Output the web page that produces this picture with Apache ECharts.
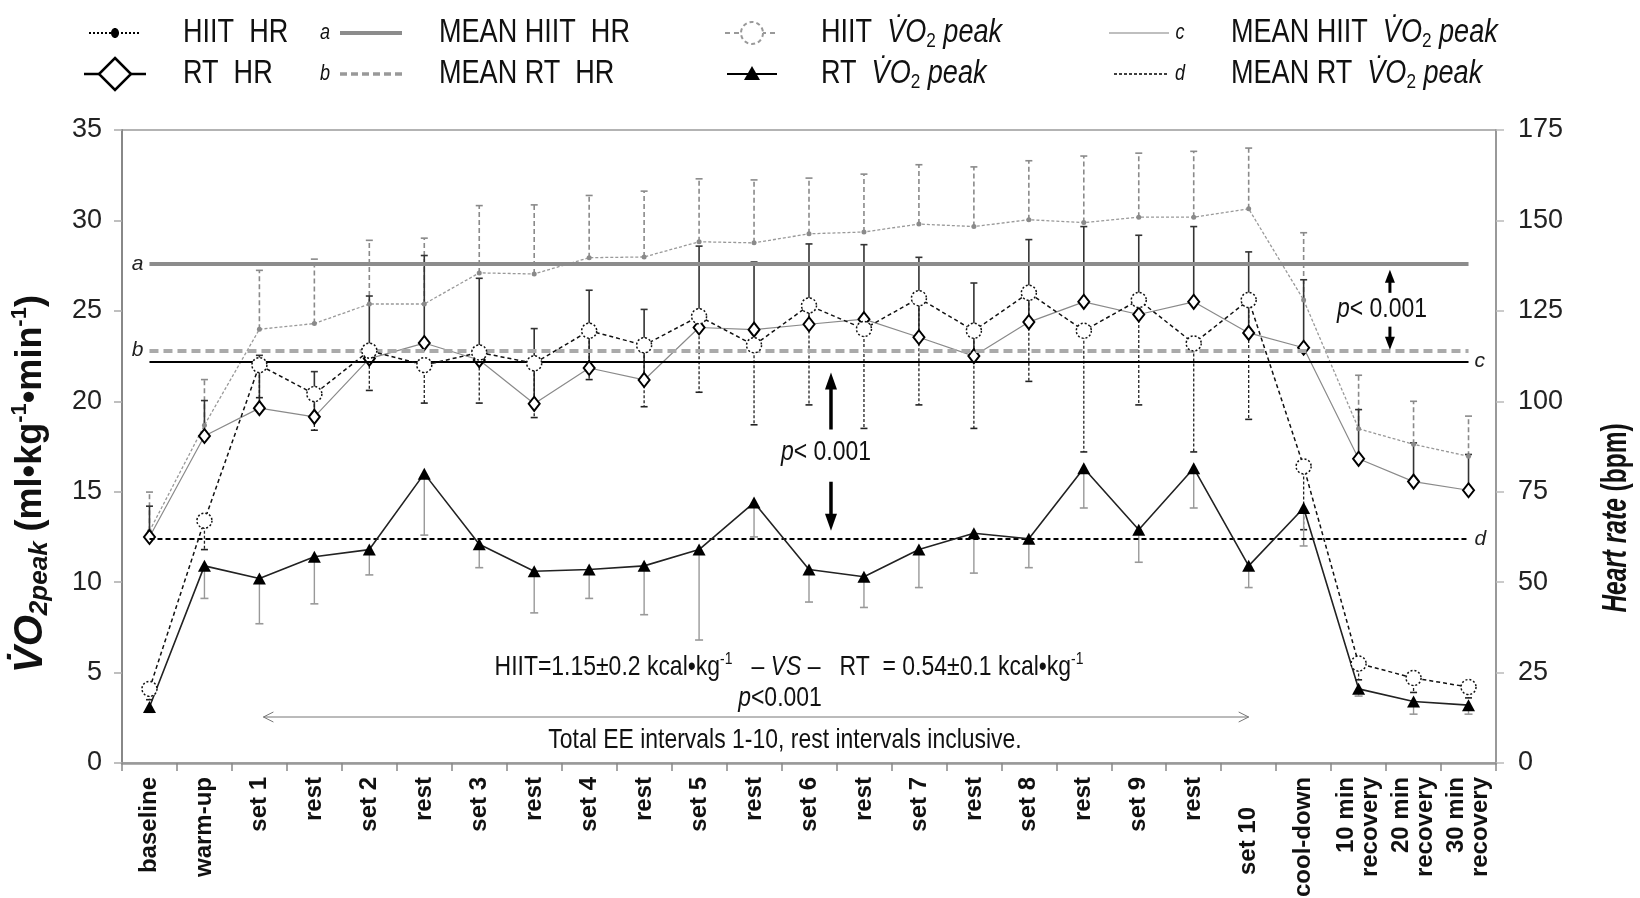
<!DOCTYPE html>
<html><head><meta charset="utf-8">
<script src="https://cdn.jsdelivr.net/npm/echarts@6/dist/echarts.min.js"></script>
<style>html,body{margin:0;padding:0;background:#fff}#c{width:1640px;height:898px}</style>
</head><body><div id="c"></div><script>
// ---------------- data ----------------
const categories = ['baseline','warm-up','set 1','rest','set 2','rest','set 3','rest','set 4','rest','set 5','rest','set 6','rest','set 7','rest','set 8','rest','set 9','rest','set 10','cool-down','10 min\nrecovery','20 min\nrecovery','30 min\nrecovery'];
// Heart rate (bpm), right axis
const hiitHR   = [64.1, 93.4, 119.9, 121.5, 126.9, 126.9, 135.5, 135.2, 139.7, 139.9, 144.1, 143.8, 146.3, 146.8, 149.0, 148.3, 150.2, 149.4, 150.9, 150.9, 153.2, 128.0, 92.4, 88.1, 84.8];
const hiitHRsd = [10.8, 12.6, 16.3, 17.8, 17.6, 18.2, 18.6, 19.1, 17.2, 18.2, 17.4, 17.4, 15.4, 16.0, 16.4, 16.5, 16.3, 18.4, 17.7, 18.2, 16.8, 18.6, 14.8, 11.9, 11.1];
const rtHR     = [62.5, 90.4, 98.1, 95.7, 111.8, 116.1, 111.4, 99.3, 109.2, 105.9, 120.4, 119.8, 121.3, 122.7, 117.7, 112.5, 121.9, 127.5, 124.0, 127.5, 118.9, 114.8, 84.1, 77.8, 75.4];
const rtHRsd   = [8.5, 9.8, 14.6, 12.5, 17.3, 24.2, 22.6, 20.8, 21.5, 19.5, 22.5, 18.7, 22.2, 20.6, 22.1, 20.2, 22.8, 20.8, 21.9, 20.8, 22.4, 18.8, 13.6, 10.7, 9.9];
// VO2 peak (ml/kg/min), left axis
const hiitVO2   = [4.1, 13.4, 22.0, 20.4, 22.8, 22.0, 22.7, 22.1, 23.9, 23.1, 24.7, 23.1, 25.3, 24.0, 25.7, 23.9, 26.0, 23.9, 25.6, 23.2, 25.6, 16.4, 5.5, 4.7, 4.2];
const hiitVO2sd = [0.6, 1.6, 1.8, 2.0, 2.2, 2.1, 2.8, 3.0, 2.7, 3.4, 4.2, 4.4, 5.5, 5.5, 5.9, 5.4, 4.9, 6.7, 5.8, 6.0, 6.6, 3.5, 0.9, 0.8, 0.6];
const rtVO2     = [3.1, 10.9, 10.2, 11.4, 11.8, 16.0, 12.1, 10.6, 10.7, 10.9, 11.8, 14.4, 10.7, 10.3, 11.8, 12.7, 12.4, 16.3, 12.9, 16.3, 10.9, 14.1, 4.1, 3.4, 3.2];
const rtVO2sd   = [0.3, 1.8, 2.5, 2.6, 1.4, 3.4, 1.3, 2.3, 1.6, 2.7, 5.0, 1.9, 1.8, 1.7, 2.1, 2.2, 1.6, 2.2, 1.8, 2.2, 1.2, 2.1, 0.4, 0.7, 0.5];
// means
const meanHiitHR = 138;
const meanRtHR = 114;
const meanHiitVO2 = 22.2;
const meanRtVO2 = 12.4;
// axis ticks
const leftAxis = {min: 0, max: 35, interval: 5};
const rightAxis = {min: 0, max: 175, interval: 25};

// ---------------- helpers ----------------
const F = "'Liberation Sans', Arial, Helvetica, sans-serif";
function errData(mean, sd, dir) { return mean.map((m, i) => [i, m, +(m + dir * sd[i]).toFixed(2)]); }
function errRender(stroke, width, dash, capW) {
  return function (params, api) {
    const p0 = api.coord([api.value(0), api.value(1)]);
    const p1 = api.coord([api.value(0), api.value(2)]);
    return {type: 'group', children: [
      {type: 'line', shape: {x1: p0[0], y1: p0[1], x2: p1[0], y2: p1[1]}, style: {stroke, lineWidth: width, lineDash: dash}},
      {type: 'line', shape: {x1: p1[0] - capW / 2, y1: p1[1], x2: p1[0] + capW / 2, y2: p1[1]}, style: {stroke, lineWidth: 1.6}}
    ]};
  };
}
function errSeries(data, yi, stroke, width, dash, capW, z) {
  return {type: 'custom', yAxisIndex: yi, data, z, silent: true, clip: false,
    encode: {x: 0, y: [1, 2]}, renderItem: errRender(stroke, width, dash, capW)};
}
function meanLine(v, label, pos, color, width, type) {
  return {silent: true, symbol: ['none', 'none'], animation: false,
    label: {show: true, position: pos, formatter: label, fontStyle: 'italic', fontSize: 21, color: '#222', fontFamily: F, distance: 6},
    lineStyle: {color, width, type},
    emphasis: {disabled: true},
    data: [[{coord: [0, v]}, {coord: [categories.length - 1, v]}]]};
}
const R = (size, extra) => Object.assign({fontFamily: F, fontSize: size, fill: '#111', color: '#111', lineHeight: size + 4}, extra || {});
function ntext(x, y, text, rich, align, size) {
  return {type: 'text', x, y, scaleX: 0.82, z: 20, silent: true,
    style: {text, rich, align: align || 'left', textAlign: align || 'left', verticalAlign: 'middle', textVerticalAlign: 'middle',
      fontFamily: F, fontSize: size || 28, fill: '#111'}};
}
const legRich = {r: R(33), i: R(33, {fontStyle: 'italic'}), s: R(21, {verticalAlign: 'bottom', lineHeight: 16})};
const annRich = {r: R(28), i: R(28, {fontStyle: 'italic'}), u: R(17, {verticalAlign: 'top', lineHeight: 17})};

// ---------------- option ----------------
const option = {
  animation: false,
  backgroundColor: '#fff',
  grid: {left: 122, right: 144, top: 130, bottom: 135, show: true, borderColor: '#9a9a9a', borderWidth: 1.5, outerBoundsMode: 'none', containLabel: false},
  xAxis: {
    type: 'category', data: categories, boundaryGap: true,
    axisLine: {show: true, lineStyle: {color: '#999', width: 2.5}},
    axisTick: {show: true, interval: 0, length: 8, lineStyle: {color: '#888', width: 1.5}},
    splitLine: {show: false},
    axisLabel: {interval: 0, rotate: 90, margin: 14, fontSize: 24, fontWeight: 'bold', color: '#111', fontFamily: F, lineHeight: 24,
      formatter: v => v === 'set 10' ? '{p|set 10}' : v,
      rich: {p: {fontSize: 24, fontWeight: 'bold', color: '#111', fontFamily: F, padding: [0, 30, 0, 0]}}}
  },
  yAxis: [
    Object.assign({type: 'value', position: 'left',
      axisLine: {show: true, lineStyle: {color: '#888', width: 2}},
      axisTick: {show: true, length: 8, lineStyle: {color: '#aaa', width: 1.5}},
      splitLine: {show: false},
      axisLabel: {fontSize: 27, color: '#222', margin: 20, fontFamily: F}}, leftAxis),
    Object.assign({type: 'value', position: 'right',
      axisLine: {show: true, lineStyle: {color: '#999', width: 2}},
      axisTick: {show: true, length: 8, lineStyle: {color: '#bbb', width: 1.5}},
      splitLine: {show: false},
      axisLabel: {fontSize: 27, color: '#222', margin: 22, fontFamily: F}}, rightAxis)
  ],
  series: [
    // error bars
    errSeries(errData(hiitHR, hiitHRsd, 1), 1, '#8a8a8a', 1.6, [5, 3], 7, 2),
    errSeries(errData(rtHR, rtHRsd, 1), 1, '#333', 1.6, null, 7, 2),
    errSeries(errData(hiitVO2, hiitVO2sd, -1), 0, '#222', 1.3, [3, 2], 7, 2),
    errSeries(errData(rtVO2, rtVO2sd, -1), 0, '#999', 1.4, null, 8, 2),
    // lines
    {name: 'HIIT HR', type: 'line', yAxisIndex: 1, data: hiitHR, z: 3, showAllSymbol: true, symbol: 'circle', symbolSize: 5,
      itemStyle: {color: '#8a8a8a'}, lineStyle: {color: '#999', width: 1.3, type: [3, 2]},
      markLine: meanLine(meanHiitHR, 'a', 'start', '#8c8c8c', 4, 'solid')},
    {name: 'RT HR', type: 'line', yAxisIndex: 1, data: rtHR, z: 4, showAllSymbol: true, symbol: 'diamond', symbolSize: [11, 14],
      itemStyle: {color: '#fff', borderColor: '#000', borderWidth: 2}, lineStyle: {color: '#8a8a8a', width: 1.2},
      markLine: meanLine(meanRtHR, 'b', 'start', '#aaa', 4, [9, 5])},
    {name: 'RT VO2', type: 'line', yAxisIndex: 0, data: rtVO2, z: 5, showAllSymbol: true, symbol: 'triangle', symbolSize: [13, 12],
      itemStyle: {color: '#000'}, lineStyle: {color: '#222', width: 1.6},
      markLine: meanLine(meanRtVO2, 'd', 'end', '#000', 2, [5, 3])},
    {name: 'HIIT VO2', type: 'line', yAxisIndex: 0, data: hiitVO2, z: 6, showAllSymbol: true, symbol: 'circle', symbolSize: 15,
      itemStyle: {color: '#fff', borderColor: '#111', borderWidth: 1.5, borderType: [2, 2]}, lineStyle: {color: '#111', width: 1.5, type: [4, 3]},
      markLine: meanLine(meanHiitVO2, 'c', 'end', '#000', 2, 'solid')}
  ]
};

const chart = echarts.init(document.getElementById('c'), null, {renderer: 'canvas'});
chart.setOption(option);

// ---------------- annotations & legend ----------------
const pL = (i, v) => chart.convertToPixel({xAxisIndex: 0, yAxisIndex: 0}, [i, v]);
const pR = (i, v) => chart.convertToPixel({xAxisIndex: 0, yAxisIndex: 1}, [i, v]);
const x0 = pL(0, 0)[0], step = pL(1, 0)[0] - x0;
const catX = f => x0 + step * f;

function arrow(x, yTail, yTip, w, headW, headH) {
  const d = yTip < yTail ? 1 : -1;
  return [
    {type: 'line', silent: true, z: 20, shape: {x1: x, y1: yTail, x2: x, y2: yTip + d * headH * 0.6}, style: {stroke: '#000', lineWidth: w}},
    {type: 'polygon', silent: true, z: 20, shape: {points: [[x, yTip], [x - headW / 2, yTip + d * headH], [x + headW / 2, yTip + d * headH]]}, style: {fill: '#000'}}
  ];
}

const g = [];
// center p-value between HIIT VO2 and RT VO2 means
const cx = catX(12.4);
const yC = pL(0, meanHiitVO2)[1], yD = pL(0, meanRtVO2)[1];
g.push(...arrow(cx, yC + 68, yC + 11, 3.5, 12, 17));
g.push(...arrow(cx, yD - 57, yD - 8, 3.5, 12, 17));
g.push(ntext(cx - 5, (yC + yD) / 2 + 2, '{i|p}{r|< 0.001}', annRich, 'center'));
// right p-value between HR means
const rx = catX(22.57);
const yA = pR(0, meanHiitHR)[1], yB = pR(0, meanRtHR)[1];
g.push(...arrow(rx, yA + 29, yA + 6, 3, 10, 13));
g.push(...arrow(rx, yB - 24, yB - 1, 3, 10, 13));
g.push(ntext(rx - 8, (yA + yB) / 2 + 2, '{i|p}{r|< 0.001}', annRich, 'center'));
// energy expenditure texts
g.push(ntext(789, 667, '{r|HIIT=1.15±0.2 kcal•kg}{u|-1}{r|   – }{i|VS}{r| –   RT  = 0.54±0.1 kcal•kg}{u|-1}', annRich, 'center'));
g.push(ntext(780, 698, '{i|p}{r|<0.001}', annRich, 'center'));
g.push(ntext(785, 740, '{r|Total EE intervals 1-10, rest intervals inclusive.}', annRich, 'center'));
// double arrow across sets 1..10
const ax1 = catX(2) + 4, ax2 = catX(20), ay = 717;
g.push({type: 'line', silent: true, shape: {x1: ax1, y1: ay, x2: ax2, y2: ay}, style: {stroke: '#777', lineWidth: 1}});
g.push({type: 'polyline', silent: true, shape: {points: [[ax1 + 10, ay - 5], [ax1, ay], [ax1 + 10, ay + 5]]}, style: {stroke: '#777', lineWidth: 1, fill: null}});
g.push({type: 'polyline', silent: true, shape: {points: [[ax2 - 10, ay - 5], [ax2, ay], [ax2 - 10, ay + 5]]}, style: {stroke: '#777', lineWidth: 1, fill: null}});

// axis titles
g.push({type: 'text', x: 31, y: 484, rotation: Math.PI / 2, silent: true, z: 20,
  style: {text: '{v|V̇O}{s|2peak}{b| (ml•kg}{u|-1}{b|•min}{u|-1}{b|)}', align: 'center', verticalAlign: 'middle', textAlign: 'center', textVerticalAlign: 'middle',
    rich: {
      v: R(40, {fontWeight: 'bold', fontStyle: 'italic', lineHeight: 44}),
      s: R(26, {fontWeight: 'bold', fontStyle: 'italic', verticalAlign: 'bottom', lineHeight: 21}),
      b: R(36, {fontWeight: 'bold', lineHeight: 44}),
      u: R(22, {fontWeight: 'bold', verticalAlign: 'top', lineHeight: 22})
    }}});
g.push({type: 'text', x: 1616, y: 518, rotation: Math.PI / 2, scaleX: 0.7, silent: true, z: 20,
  style: {text: '{i|Heart rate}{b| (bpm)}', align: 'center', verticalAlign: 'middle', textAlign: 'center', textVerticalAlign: 'middle',
    rich: {i: R(35, {fontWeight: 'bold', fontStyle: 'italic'}), b: R(35, {fontWeight: 'bold'})}}});

// legend
const r1 = 33, r2 = 74;
g.push({type: 'line', silent: true, shape: {x1: 89, y1: r1, x2: 141, y2: r1}, style: {stroke: '#000', lineWidth: 2, lineDash: [2, 2]}});
g.push({type: 'ellipse', silent: true, shape: {cx: 115, cy: r1, rx: 4, ry: 5}, style: {fill: '#000'}});
g.push({type: 'line', silent: true, shape: {x1: 84, y1: r2, x2: 146, y2: r2}, style: {stroke: '#000', lineWidth: 2.5}});
g.push({type: 'polygon', silent: true, shape: {points: [[115, r2 - 16], [131, r2], [115, r2 + 16], [99, r2]]}, style: {fill: '#fff', stroke: '#000', lineWidth: 2.5}});
g.push(ntext(183, r1, '{r|HIIT  HR}', legRich));
g.push(ntext(183, r2, '{r|RT  HR}', legRich));

g.push(ntext(325, r1, '{i|a}', {i: R(22, {fontStyle: 'italic'})}, 'center'));
g.push(ntext(325, r2, '{i|b}', {i: R(22, {fontStyle: 'italic'})}, 'center'));
g.push({type: 'line', silent: true, shape: {x1: 340, y1: r1, x2: 402, y2: r1}, style: {stroke: '#8c8c8c', lineWidth: 4}});
g.push({type: 'line', silent: true, shape: {x1: 340, y1: r2, x2: 402, y2: r2}, style: {stroke: '#999', lineWidth: 3.5, lineDash: [7, 4]}});
g.push(ntext(439, r1, '{r|MEAN HIIT  HR}', legRich));
g.push(ntext(439, r2, '{r|MEAN RT  HR}', legRich));

g.push({type: 'line', silent: true, shape: {x1: 725, y1: r1, x2: 779, y2: r1}, style: {stroke: '#999', lineWidth: 2, lineDash: [5, 4]}});
g.push({type: 'circle', silent: true, shape: {cx: 752, cy: r1, r: 11}, style: {fill: '#fff', stroke: '#999', lineWidth: 2, lineDash: [4, 3]}});
g.push({type: 'line', silent: true, shape: {x1: 727, y1: r2, x2: 777, y2: r2}, style: {stroke: '#000', lineWidth: 2}});
g.push({type: 'polygon', silent: true, shape: {points: [[752, r2 - 8], [760, r2 + 6], [744, r2 + 6]]}, style: {fill: '#000'}});
g.push(ntext(821, r1, '{r|HIIT  }{i|V̇O}{s|2}{i| peak}', legRich));
g.push(ntext(821, r2, '{r|RT  }{i|V̇O}{s|2}{i| peak}', legRich));

g.push({type: 'line', silent: true, shape: {x1: 1109, y1: r1, x2: 1169, y2: r1}, style: {stroke: '#aaa', lineWidth: 1.5}});
g.push({type: 'line', silent: true, shape: {x1: 1114, y1: r2, x2: 1169, y2: r2}, style: {stroke: '#000', lineWidth: 1.5, lineDash: [3, 2]}});
g.push(ntext(1180, r1, '{i|c}', {i: R(22, {fontStyle: 'italic'})}, 'center'));
g.push(ntext(1180, r2, '{i|d}', {i: R(22, {fontStyle: 'italic'})}, 'center'));
g.push(ntext(1231, r1, '{r|MEAN HIIT  }{i|V̇O}{s|2}{i| peak}', legRich));
g.push(ntext(1231, r2, '{r|MEAN RT  }{i|V̇O}{s|2}{i| peak}', legRich));

chart.setOption({graphic: g});
</script></body></html>
